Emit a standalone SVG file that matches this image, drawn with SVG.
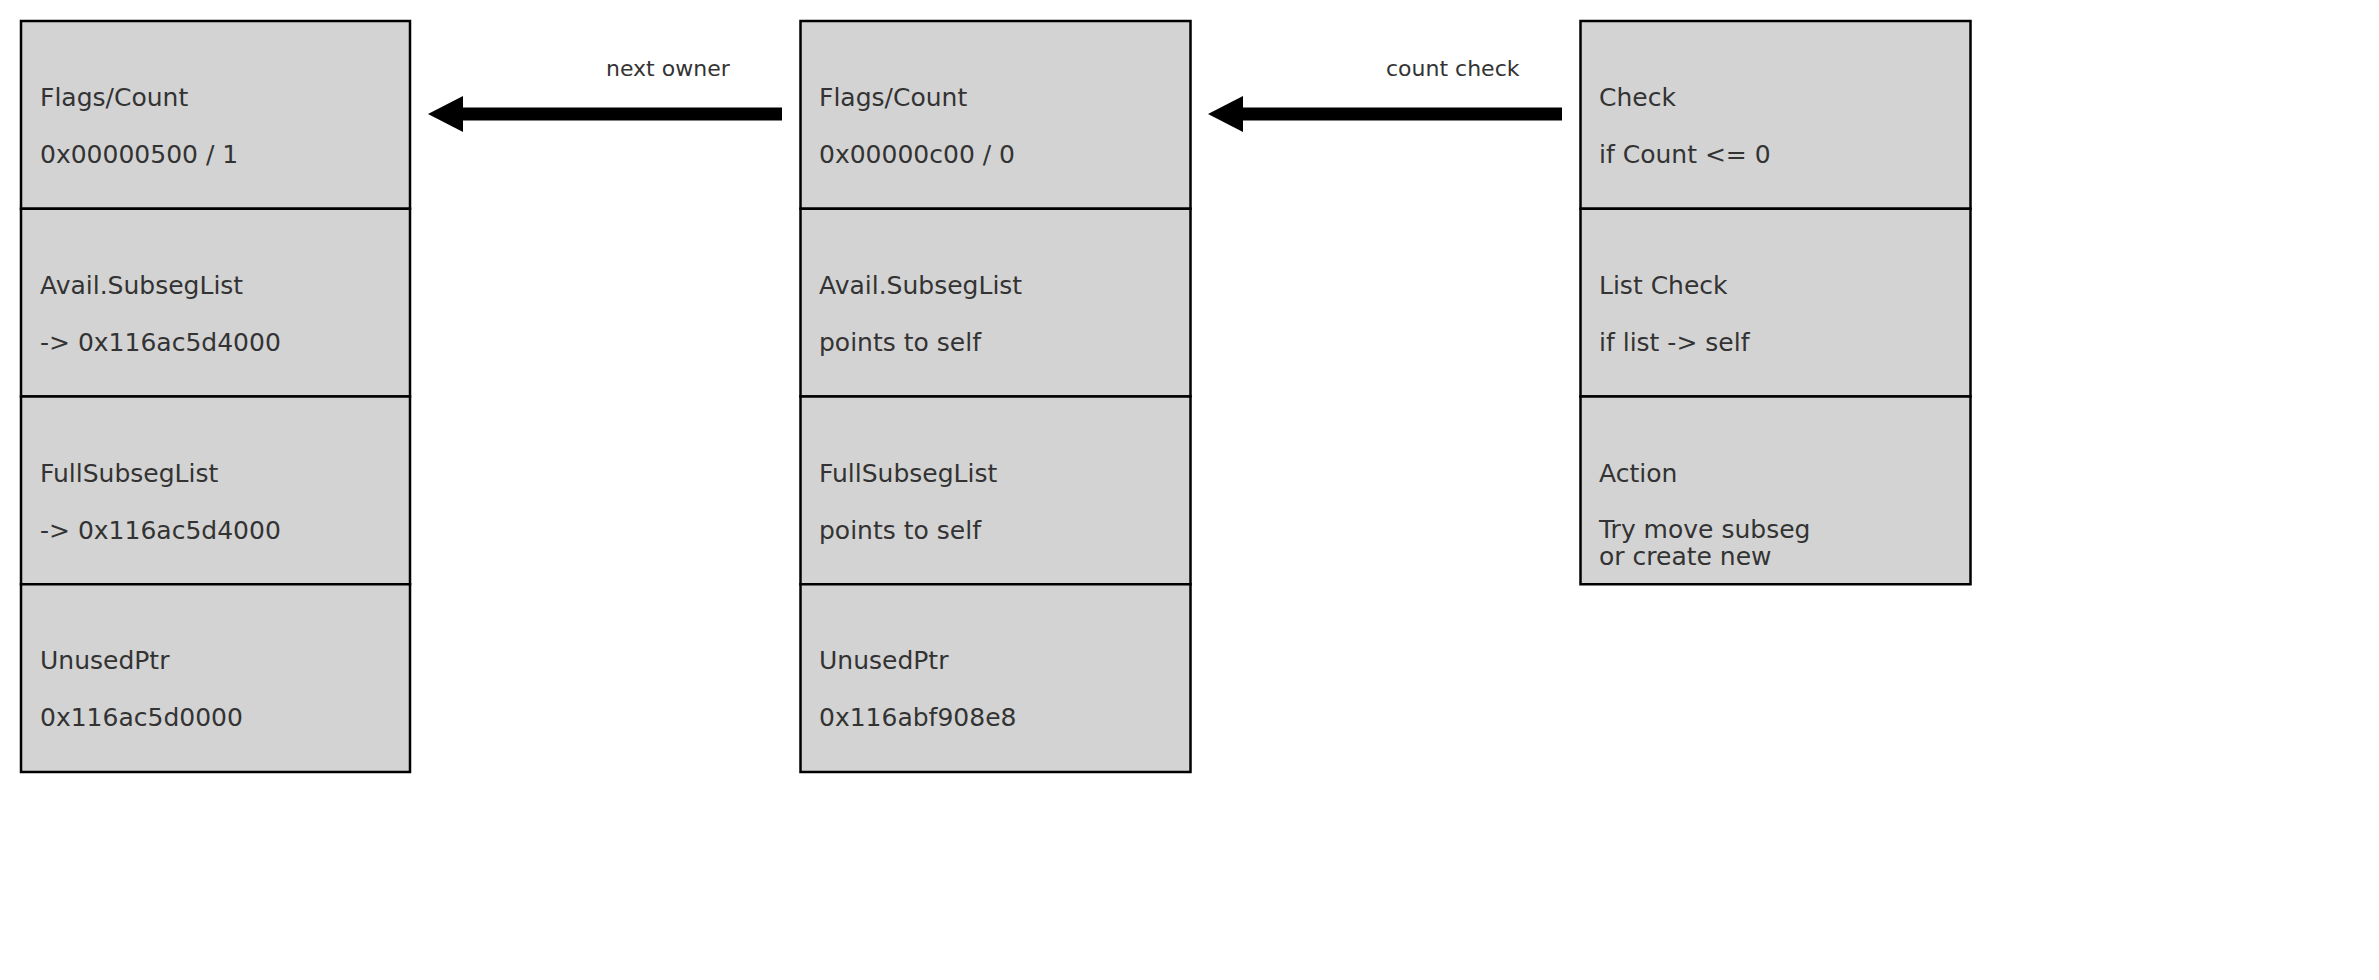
<svg xmlns="http://www.w3.org/2000/svg" width="2379" height="980" viewBox="0 0 2379 980">
<style>
.cell{fill:#d3d3d3;stroke:#000;stroke-width:2.5}
.t{font-family:"DejaVu Sans",sans-serif;font-size:25px;fill:#333333}
.lbl{font-family:"DejaVu Sans",sans-serif;font-size:22px;fill:#333333}
.shaft{stroke:#000;stroke-width:13;fill:none}
</style>
<rect width="2379" height="980" fill="#fff"/>
<g id="left">
<rect class="cell" x="21" y="21" width="389" height="187.75"/>
<rect class="cell" x="21" y="208.75" width="389" height="187.75"/>
<rect class="cell" x="21" y="396.5" width="389" height="187.75"/>
<rect class="cell" x="21" y="584.25" width="389" height="187.75"/>
<text class="t" x="40" y="105.5">Flags/Count</text>
<text class="t" x="40" y="162.5">0x00000500 / 1</text>
<text class="t" x="40" y="293.5">Avail.SubsegList</text>
<text class="t" x="40" y="350.5">-&gt; 0x116ac5d4000</text>
<text class="t" x="40" y="481.5">FullSubsegList</text>
<text class="t" x="40" y="538.5">-&gt; 0x116ac5d4000</text>
<text class="t" x="40" y="668.5">UnusedPtr</text>
<text class="t" x="40" y="725.5">0x116ac5d0000</text>
</g>
<g id="middle">
<rect class="cell" x="800.5" y="21" width="390" height="187.75"/>
<rect class="cell" x="800.5" y="208.75" width="390" height="187.75"/>
<rect class="cell" x="800.5" y="396.5" width="390" height="187.75"/>
<rect class="cell" x="800.5" y="584.25" width="390" height="187.75"/>
<text class="t" x="819" y="105.5">Flags/Count</text>
<text class="t" x="819" y="162.5">0x00000c00 / 0</text>
<text class="t" x="819" y="293.5">Avail.SubsegList</text>
<text class="t" x="819" y="350.5">points to self</text>
<text class="t" x="819" y="481.5">FullSubsegList</text>
<text class="t" x="819" y="538.5">points to self</text>
<text class="t" x="819" y="668.5">UnusedPtr</text>
<text class="t" x="819" y="725.5">0x116abf908e8</text>
</g>
<g id="right">
<rect class="cell" x="1580.5" y="21" width="390" height="187.75"/>
<rect class="cell" x="1580.5" y="208.75" width="390" height="187.75"/>
<rect class="cell" x="1580.5" y="396.5" width="390" height="187.75"/>
<text class="t" x="1599" y="105.5">Check</text>
<text class="t" x="1599" y="162.5">if Count &lt;= 0</text>
<text class="t" x="1599" y="293.5">List Check</text>
<text class="t" x="1599" y="350.5">if list -&gt; self</text>
<text class="t" x="1599" y="481.5">Action</text>
<text class="t" x="1599" y="537.5">Try move subseg</text>
<text class="t" x="1599" y="565">or create new</text>
</g>
<g id="connectors">
<g id="e-next-owner">
<line class="shaft" x1="782" y1="114" x2="460" y2="114"/>
<polygon points="428,114 463,96 463,132" fill="#000"/>
<text class="lbl" x="606" y="76">next owner</text>
</g>
<g id="e-count-check">
<line class="shaft" x1="1562" y1="114" x2="1240" y2="114"/>
<polygon points="1208,114 1243,96 1243,132" fill="#000"/>
<text class="lbl" x="1386" y="76">count check</text>
</g>
</g>
</svg>
